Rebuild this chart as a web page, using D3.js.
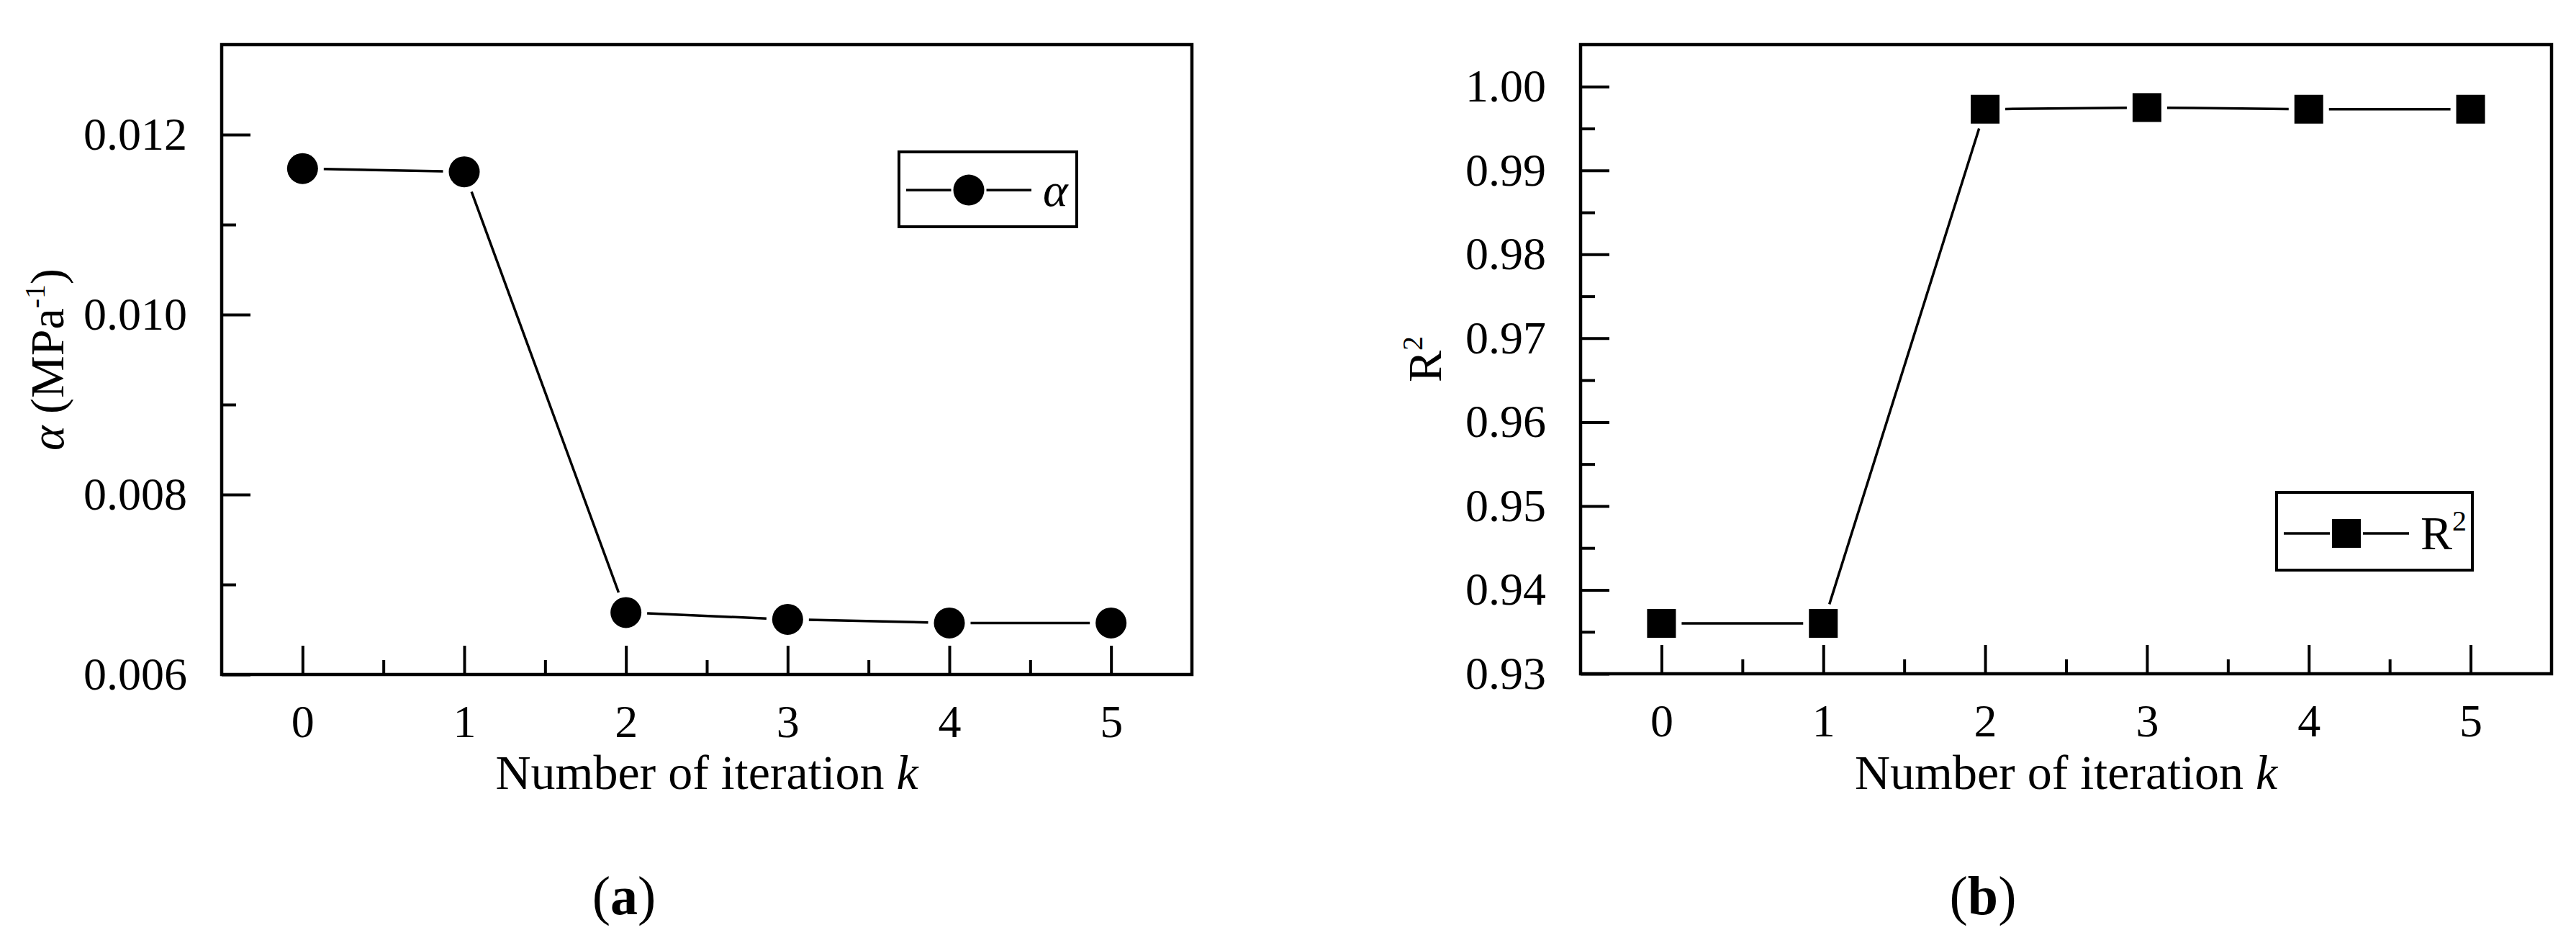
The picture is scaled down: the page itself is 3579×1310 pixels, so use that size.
<!DOCTYPE html>
<html>
<head>
<meta charset="utf-8">
<script src="https://cdn.jsdelivr.net/npm/d3@7"></script>
<style>
  body { margin: 0; background: #fff; }
  text { font-family: "Liberation Serif", "Times New Roman", serif; fill: #000; }
</style>
</head>
<body>
<svg id="fig" width="3579" height="1310"></svg>
<script>
// data
var iterations = [0, 1, 2, 3, 4, 5];
var alphaValues = [0.011623, 0.011587, 0.006689, 0.006613, 0.006573, 0.006573];
var r2Values = [0.9360, 0.9360, 0.9973, 0.9975, 0.9973, 0.9973];

var alphaTicks = [0.006, 0.008, 0.010, 0.012];
var alphaMinor = [0.007, 0.009, 0.011];
var r2Ticks = [0.93, 0.94, 0.95, 0.96, 0.97, 0.98, 0.99, 1.00];
var r2Minor = [0.935, 0.945, 0.955, 0.965, 0.975, 0.985, 0.995];
var iterMinor = [0.5, 1.5, 2.5, 3.5, 4.5];

var svg = d3.select('#fig');

//============================================================
// one panel
//------------------------------------------------------------
function panel(opt) {
    var x = d3.scaleLinear().domain([-0.5, 5.5]).range([opt.left, opt.right]),
        y = d3.scaleLinear().domain(opt.yDomain).range([opt.bottom, opt.top]);

    var g = svg.append('g');

    // axes, ticks pointing inward
    var yAxis = d3.axisLeft(y).tickValues(opt.yTicks).tickFormat(opt.yFormat)
        .tickSizeInner(-40).tickSizeOuter(0).tickPadding(48);
    var yMinor = d3.axisLeft(y).tickValues(opt.yMinor).tickFormat('')
        .tickSizeInner(-20).tickSizeOuter(0);
    var xAxis = d3.axisBottom(x).tickValues(iterations).tickFormat(d3.format('d'))
        .tickSizeInner(-40).tickSizeOuter(0).tickPadding(42);
    var xMinor = d3.axisBottom(x).tickValues(iterMinor).tickFormat('')
        .tickSizeInner(-20).tickSizeOuter(0);

    [yAxis, yMinor].forEach(function(a) {
        g.append('g').attr('transform', 'translate(' + opt.left + ',0)').call(a);
    });
    [xAxis, xMinor].forEach(function(a) {
        g.append('g').attr('transform', 'translate(0,' + opt.bottom + ')').call(a);
    });
    g.selectAll('.domain').remove();
    g.selectAll('.tick line').attr('stroke', '#000').attr('stroke-width', 4);
    g.selectAll('.tick text').attr('font-size', 64)
        .attr('font-family', '"Liberation Serif", serif');

    g.append('rect')
        .attr('x', opt.left).attr('y', opt.top)
        .attr('width', opt.right - opt.left).attr('height', opt.bottom - opt.top)
        .attr('fill', 'none').attr('stroke', '#000').attr('stroke-width', 4.5);

    // connecting lines, cut short around the markers
    var pts = iterations.map(function(d, i) { return [x(d), y(opt.values[i])]; });
    var cut = opt.markerR + 8;
    for (var i = 0; i < pts.length - 1; i++) {
        var a = pts[i], b = pts[i + 1],
            dx = b[0] - a[0], dy = b[1] - a[1],
            len = Math.sqrt(dx * dx + dy * dy);
        if (len <= 2 * cut) continue;
        var ux = dx / len, uy = dy / len;
        g.append('line')
            .attr('x1', a[0] + ux * cut).attr('y1', a[1] + uy * cut)
            .attr('x2', b[0] - ux * cut).attr('y2', b[1] - uy * cut)
            .attr('stroke', '#000').attr('stroke-width', 3.5);
    }

    drawMarkers(g, pts, opt.marker, opt.markerR);

    // x title
    var xt = g.append('text')
        .attr('x', (opt.left + opt.right) / 2).attr('y', 1096)
        .attr('text-anchor', 'middle').attr('font-size', 68);
    xt.append('tspan').text('Number of iteration ');
    xt.append('tspan').attr('font-style', 'italic').text('k');

    // y title
    var yt = g.append('text')
        .attr('transform', 'translate(' + opt.yTitleX + ',' + (opt.top + opt.bottom) / 2 + ') rotate(-90)')
        .attr('text-anchor', 'middle').attr('font-size', 66);
    opt.yTitle(yt);

    // legend
    var lg = opt.legend;
    g.append('rect')
        .attr('x', lg.x0).attr('y', lg.y0)
        .attr('width', lg.x1 - lg.x0).attr('height', lg.y1 - lg.y0)
        .attr('fill', '#fff').attr('stroke', '#000').attr('stroke-width', 4);
    var ly = (lg.y0 + lg.y1) / 2 + lg.dy,
        lx0 = lg.x0 + 10, lx1 = lx0 + 174, lmid = (lx0 + lx1) / 2;
    g.append('line').attr('x1', lx0).attr('x2', lmid - opt.markerR - 3)
        .attr('y1', ly).attr('y2', ly).attr('stroke', '#000').attr('stroke-width', 3.5);
    g.append('line').attr('x1', lmid + opt.markerR + 3).attr('x2', lx1)
        .attr('y1', ly).attr('y2', ly).attr('stroke', '#000').attr('stroke-width', 3.5);
    drawMarkers(g, [[lmid, ly]], opt.marker, opt.markerR);
    var lt = g.append('text').attr('x', lx1 + 16).attr('y', ly + 22).attr('font-size', 66);
    opt.legendText(lt);

    // caption
    var cp = svg.append('text')
        .attr('x', opt.captionX).attr('y', 1270)
        .attr('text-anchor', 'middle').attr('font-size', 76);
    cp.append('tspan').text('(');
    cp.append('tspan').attr('font-weight', 'bold').text(opt.caption);
    cp.append('tspan').text(')');
}

function drawMarkers(g, pts, shape, r) {
    if (shape === 'circle') {
        g.selectAll(null).data(pts).enter().append('circle')
            .attr('cx', function(d) { return d[0]; })
            .attr('cy', function(d) { return d[1]; })
            .attr('r', r).attr('fill', '#000');
    } else {
        g.selectAll(null).data(pts).enter().append('rect')
            .attr('x', function(d) { return d[0] - r; })
            .attr('y', function(d) { return d[1] - r; })
            .attr('width', 2 * r).attr('height', 2 * r).attr('fill', '#000');
    }
}

function superscript(t, base, sup) {
    t.append('tspan').text(base);
    t.append('tspan').attr('font-size', 40).attr('dy', -26).text(sup);
}

panel({
    left: 308, right: 1656, top: 62, bottom: 937,
    yDomain: [0.006, 0.013], yTicks: alphaTicks, yMinor: alphaMinor,
    yFormat: d3.format('.3f'), values: alphaValues,
    marker: 'circle', markerR: 21.5,
    yTitleX: 88,
    yTitle: function(t) {
        t.append('tspan').attr('font-style', 'italic').text('α');
        t.append('tspan').text(' (MPa');
        t.append('tspan').attr('font-size', 40).attr('dy', -26).text('-1');
        t.append('tspan').attr('dy', 26).text(')');
    },
    legend: {x0: 1249, x1: 1496, y0: 211, y1: 315, dy: 1},
    legendText: function(t) { t.attr('font-style', 'italic').text('α'); },
    caption: 'a', captionX: 867
});

panel({
    left: 2196, right: 3545, top: 62, bottom: 936,
    yDomain: [0.93, 1.005], yTicks: r2Ticks, yMinor: r2Minor,
    yFormat: d3.format('.2f'), values: r2Values,
    marker: 'square', markerR: 20,
    yTitleX: 2002,
    yTitle: function(t) { superscript(t, 'R', '2'); },
    legend: {x0: 3163, x1: 3435, y0: 684, y1: 792, dy: 3},
    legendText: function(t) { superscript(t, 'R', '2'); },
    caption: 'b', captionX: 2755
});
</script>
</body>
</html>
